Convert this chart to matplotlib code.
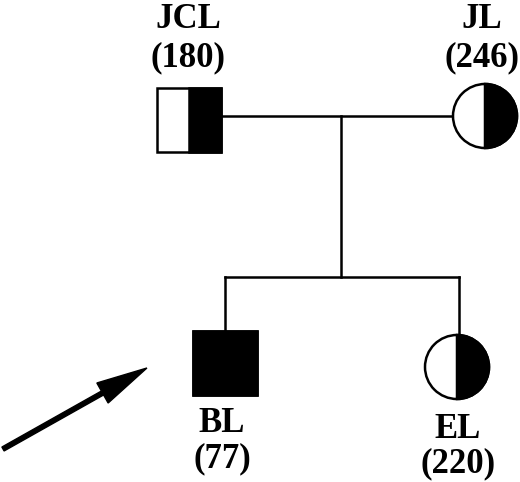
import matplotlib
matplotlib.use('Agg')
import matplotlib.pyplot as plt
from matplotlib.patches import Rectangle, Circle, Wedge, FancyArrow

# pedigree members
names = ['JCL', 'JL', 'BL', 'EL']
values = [180, 246, 77, 220]
sex = ['M', 'F', 'M', 'F']
status = ['half', 'half', 'full', 'half']   # shading of symbol
proband = 'BL'

# layout (pixel coords, y down)
pos = {'JCL': (189, 120), 'JL': (485, 116), 'BL': (225, 363), 'EL': (457, 367)}
label_pos = {'JCL': (188, 19, 58), 'JL': (482, 19, 58), 'BL': (222, 424, 459), 'EL': (458, 429, 464)}
half = 32

fig = plt.figure(figsize=(5.2, 4.82), dpi=100)
ax = fig.add_axes([0, 0, 1, 1])
ax.set_xlim(0, 520)
ax.set_ylim(482, 0)
ax.set_aspect('equal')
ax.axis('off')

lw = 1.8
# marriage line, descent line, sibship line
ax.plot([pos['JCL'][0] + half, pos['JL'][0] - half], [116, 116], color='k', lw=lw)
ax.plot([341, 341], [116, 277], color='k', lw=lw)
ax.plot([pos['BL'][0], pos['EL'][0] + 2], [277, 277], color='k', lw=lw)
ax.plot([pos['BL'][0], pos['BL'][0]], [277, pos['BL'][1] - half], color='k', lw=lw)
ax.plot([pos['EL'][0] + 2, pos['EL'][0] + 2], [277, pos['EL'][1] - half], color='k', lw=lw)

for n, v, s, st in zip(names, values, sex, status):
    x, y = pos[n]
    if s == 'M':
        ax.add_patch(Rectangle((x - half, y - half), 2 * half, 2 * half,
                               facecolor='white', edgecolor='k', lw=lw, zorder=3))
        if st == 'full':
            ax.add_patch(Rectangle((x - half, y - half), 2 * half, 2 * half,
                                   facecolor='k', edgecolor='k', lw=lw, zorder=4))
        else:
            ax.add_patch(Rectangle((x, y - half), half, 2 * half,
                                   facecolor='k', edgecolor='k', lw=lw, zorder=4))
    else:
        ax.add_patch(Circle((x, y), half, facecolor='white', edgecolor='k', lw=lw, zorder=3))
        if st == 'full':
            ax.add_patch(Circle((x, y), half, facecolor='k', edgecolor='k', lw=lw, zorder=4))
        else:
            ax.add_patch(Wedge((x, y), half, -90, 90, facecolor='k', edgecolor='k', lw=lw, zorder=4))
    lx, ly1, ly2 = label_pos[n]
    ax.text(lx, ly1, n, ha='center', va='center', fontsize=25, fontweight='bold',
            family='Liberation Serif')
    ax.text(lx, ly2, '(%d)' % v, ha='center', va='center', fontsize=25, fontweight='bold',
            family='Liberation Serif')

# proband arrow
ax.add_patch(FancyArrow(3, 449, 99.5, -56, width=4.5, head_width=23, head_length=51,
                        length_includes_head=False, color='k', zorder=5))

fig.savefig('out.png', dpi=100)
